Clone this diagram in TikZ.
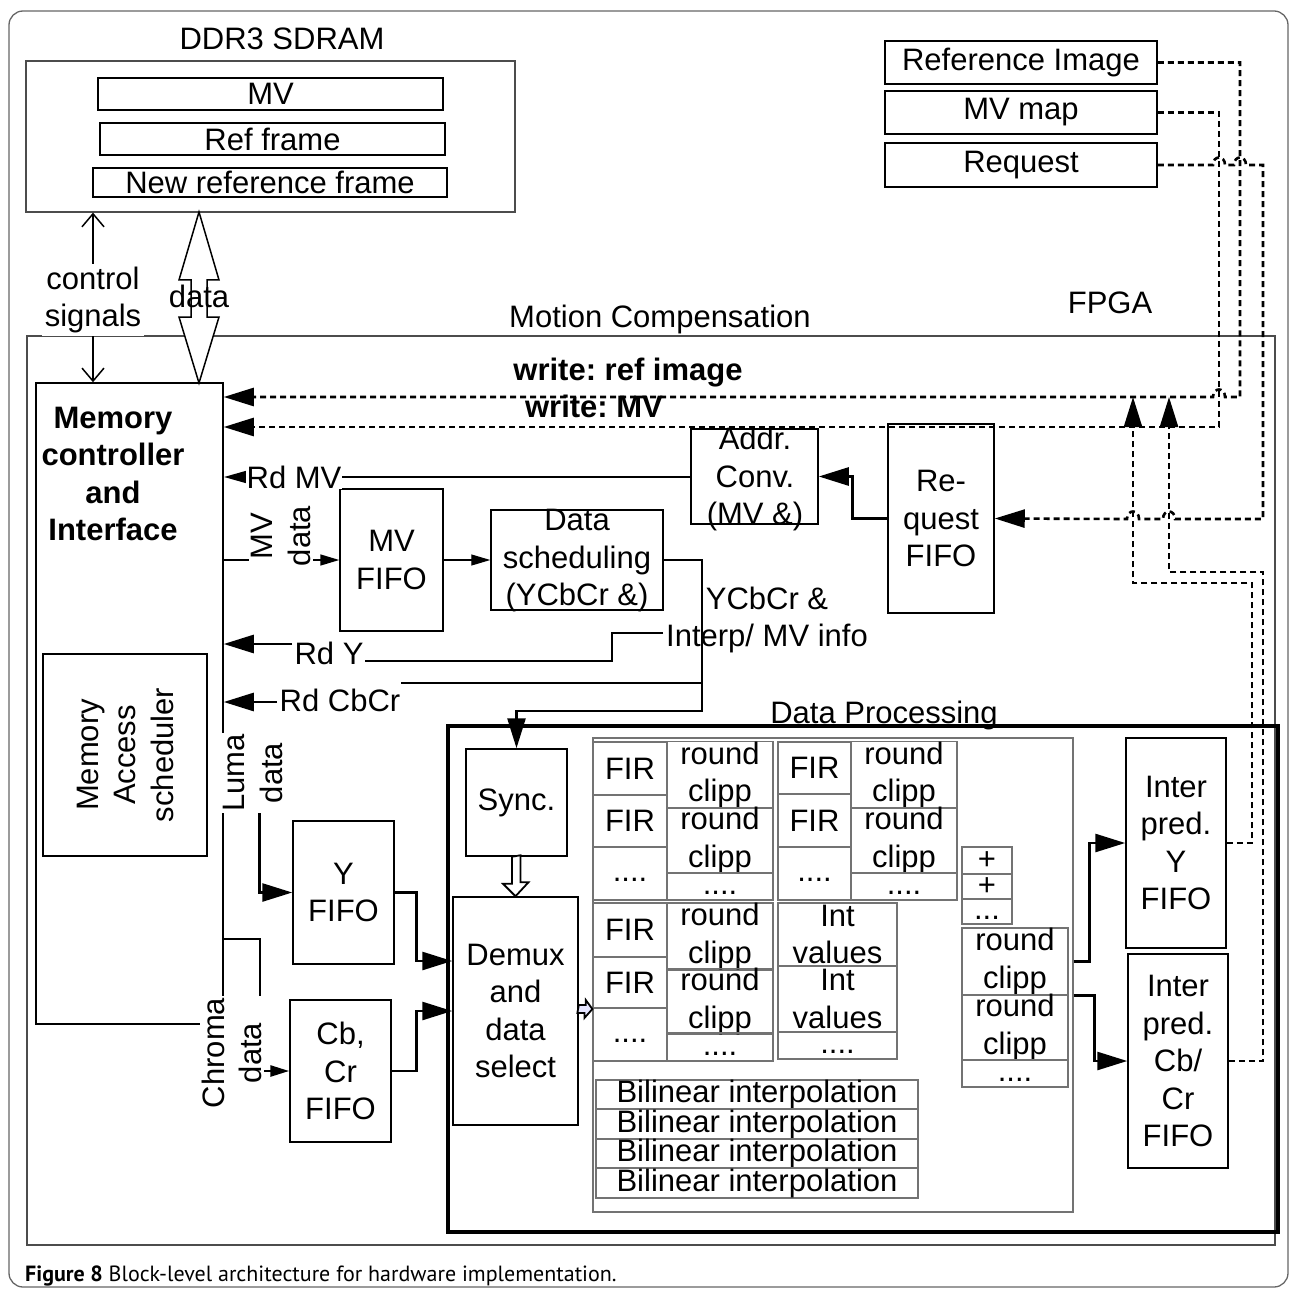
\documentclass[tikz,border=0pt]{standalone}
\usepackage{fontspec}
\setmainfont{Liberation Sans}
\newfontfamily\captionfont{PT Sans}
\newcommand{\mainsize}{\fontsize{31}{37.5}\selectfont\frenchspacing}
\usetikzlibrary{arrows.meta}
\tikzset{
	boxsize/.style 2 args={
			minimum width=#1pt,
			minimum height=#2pt
		},
	blocknode/.style={
			draw=black,
			line width=1.5pt,
			inner sep=0pt,
			align=center
		},
	outernode/.style={
			blocknode,
			draw=black!70,
			line width=1.3pt
		},
	cellnode/.style={
			blocknode,
			draw=black!55,
			line width=1.2pt
		},
	textnode/.style={
			inner sep=0pt,
			align=center
		},
	covernode/.style={
			textnode,
			fill=white,
			inner sep=2pt
		},
	wire/.style={line width=1.5pt},
	heavywire/.style={line width=2.7pt},
	dashwire/.style={line width=2.6pt, dash pattern=on 6pt off 4pt},
	bigarrow/.style={-{Triangle[length=30pt, width=18pt]}},
	midarrow/.style={-{Triangle[length=23pt, width=12pt]}},
	smallarrow/.style={-{Triangle[length=19pt, width=11pt]}},
	ctlarrows/.style={{Straight Barb[length=13pt, width=22pt]}-{Straight Barb[length=13pt, width=22pt]}}
}
\begin{document}
\begin{tikzpicture}[x=1pt, y=-1pt, font=\mainsize]
\useasboundingbox (0,0) rectangle (1290,1289);
\draw[black!60, line width=1.3pt, rounded corners=14pt] (9,11) rectangle (1288,1287);

\node[textnode] (ddrlabel) at (282,39) {DDR3 SDRAM};
\node[outernode, boxsize={489}{151}] (ddr) at (270.5,136.5) {};
\node[blocknode, boxsize={345}{32}] (mvmem) at (270.5,94) {MV};
\node[blocknode, boxsize={345}{32}] (refmem) at (272.5,139) {Ref frame};
\node[blocknode, boxsize={354}{29}] (newmem) at (270,182.5) {New reference frame};

\node[blocknode, boxsize={272}{43}] (refimg) at (1021,62.5) {Reference Image};
\node[blocknode, boxsize={272}{43}] (mvmap) at (1021,112.5) {MV map};
\node[blocknode, boxsize={272}{44}] (request) at (1021,165) {Request};

\node[textnode] (mclabel) at (660,319) {Motion Compensation};
\node[textnode] (fpgalabel) at (1110,303) {FPGA};
\node[outernode, boxsize={1248}{909}] (fpga) at (651,790.5) {};

\node[blocknode, boxsize={187}{641}] (memctl) at (129.5,703.5) {};
\node[textnode, font=\mainsize\bfseries] (memctltext) at (113,474) {Memory\\controller\\and\\Interface};
\node[blocknode, boxsize={164}{202}] (sched) at (125,755) {};
\node[textnode, rotate=90] (schedtext) at (sched.center) {Memory\\Access\\scheduler};

\node[blocknode, boxsize={103}{142}] (mvfifo) at (391.5,560) {MV\\FIFO};
\node[blocknode, boxsize={172}{100}] (datasched) at (577,560) {};
\node[textnode] (dataschedtext) at (577,561) {Data\\scheduling\\(YCbCr \&)};
\node[blocknode, boxsize={127}{95}] (addrconv) at (754.5,476.5) {};
\node[textnode] (addrconvtext) at (755,479) {Addr.\\Conv.\\(MV \&)};
\node[blocknode, boxsize={106}{189}] (reqfifo) at (941,518.5) {Re-\\quest\\FIFO};

\node[blocknode, boxsize={101}{143}] (yfifo) at (343.5,892.5) {Y\\FIFO};
\node[blocknode, boxsize={101}{142}] (cfifo) at (340.5,1071) {Cb,\\Cr\\FIFO};

\node[textnode] (dplabel) at (884,715) {Data Processing};
\node[blocknode, line width=3.2pt, boxsize={830}{506}] (dp) at (863,979) {};
\node[blocknode, boxsize={101}{107}] (sync) at (516.5,802.5) {Sync.};
\node[blocknode, boxsize={125}{228}] (demux) at (515.5,1011) {Demux\\and\\data\\select};
\node[cellnode, boxsize={480}{474}] (panel) at (833,975) {};

\node[cellnode, boxsize={74}{53}] (fir1a) at (630,768.5) {FIR};
\node[cellnode, boxsize={74}{52}] (fir1b) at (630,821) {FIR};
\node[cellnode, boxsize={74}{53}] (fir1c) at (630,873.5) {\vphantom{x}....};
\node[cellnode, boxsize={106}{66}] (rnd1a) at (720,775) {round\\clipp};
\node[cellnode, boxsize={106}{65}] (rnd1b) at (720,840.5) {round\\clipp};
\node[cellnode, boxsize={106}{27}] (rnd1c) at (720,886.5) {\vphantom{x}....};

\node[cellnode, boxsize={73}{52}] (fir2a) at (814.5,768) {FIR};
\node[cellnode, boxsize={73}{53}] (fir2b) at (814.5,820.5) {FIR};
\node[cellnode, boxsize={73}{53}] (fir2c) at (814.5,873.5) {\vphantom{x}....};
\node[cellnode, boxsize={106}{66}] (rnd2a) at (904,775) {round\\clipp};
\node[cellnode, boxsize={106}{65}] (rnd2b) at (904,840.5) {round\\clipp};
\node[cellnode, boxsize={106}{27}] (rnd2c) at (904,886.5) {\vphantom{x}....};

\node[cellnode, boxsize={74}{54}] (fir3a) at (630,930) {FIR};
\node[cellnode, boxsize={74}{51}] (fir3b) at (630,982.5) {FIR};
\node[cellnode, boxsize={74}{53}] (fir3c) at (630,1034.5) {\vphantom{x}....};
\node[cellnode, boxsize={106}{67}] (rnd3a) at (720,936.5) {round\\clipp};
\node[cellnode, boxsize={106}{63}] (rnd3b) at (720,1001.5) {round\\clipp};
\node[cellnode, boxsize={106}{28}] (rnd3c) at (720,1047) {\vphantom{x}....};

\node[cellnode, boxsize={119}{63}] (intv1) at (837.5,934.5) {Int\\values};
\node[cellnode, boxsize={119}{66}] (intv2) at (837.5,999) {Int\\values};
\node[cellnode, boxsize={119}{27}] (intv3) at (837.5,1045.5) {\vphantom{x}....};

\node[cellnode, boxsize={322}{29}] (bil1) at (757,1094.5) {Bilinear interpolation};
\node[cellnode, boxsize={322}{30}] (bil2) at (757,1124) {Bilinear interpolation};
\node[cellnode, boxsize={322}{29}] (bil3) at (757,1153.5) {Bilinear interpolation};
\node[cellnode, boxsize={322}{30}] (bil4) at (757,1183) {Bilinear interpolation};

\node[cellnode, boxsize={50}{27}] (add1) at (987,860.5) {+};
\node[cellnode, boxsize={50}{25}] (add2) at (987,886.5) {+};
\node[cellnode, boxsize={50}{25}] (add3) at (987,911.5) {\vphantom{x}...};
\node[cellnode, boxsize={106}{67}] (rnd4a) at (1015,961.5) {round\\clipp};
\node[cellnode, boxsize={106}{65}] (rnd4b) at (1015,1027.5) {round\\clipp};
\node[cellnode, boxsize={106}{27}] (rnd4c) at (1015,1073.5) {\vphantom{x}....};

\node[blocknode, boxsize={100}{210}] (ypred) at (1176,843) {Inter\\pred.\\Y\\FIFO};
\node[blocknode, boxsize={100}{214}] (cpred) at (1178,1061) {Inter\\pred.\\Cb/\\Cr\\FIFO};

\coordinate (ctl) at (93,300);
\coordinate (rdmv) at (294,477);
\coordinate (rdya) at (292,644);
\coordinate (rdyb) at (365,661);
\coordinate (rdys) at (663,633);
\coordinate (rdca) at (277,702);
\coordinate (rdcb) at (401,683);
\coordinate (dsj) at (702,711);
\coordinate (luma) at (253,773);
\coordinate (chroma) at (223,939);
\coordinate (wref) at (1240,397);
\coordinate (wmv) at (1219,427);
\coordinate (wreq) at (1263,519);
\coordinate (yup) at (1133,583);
\coordinate (cup) at (1169,572);

\draw[wire, ctlarrows] (ctl |- memctl.north) -- (ctl |- ddr.south);
\draw[wire, fill=white] (199,212) -- ++(-20,68) -- ++(12,0) -- ++(0,37) -- ++(-12,0) -- (199,383) -- ++(20,-66) -- ++(-12,0) -- ++(0,-37) -- ++(12,0) -- cycle;

\draw[dashwire, bigarrow] (refimg.east) -| (wref) -- (1225,397) .. controls (1225,387) and (1213,387) .. (1213,397) -- (wref -| memctl.east);
\draw[dashwire, bigarrow] (mvmap.east) -| (wmv) -- (wmv -| memctl.east);
\draw[dashwire, bigarrow] (request.east) -- (1213,165) .. controls (1213,155) and (1225,155) .. (1225,165) -- (1234,165) .. controls (1234,155) and (1246,155) .. (1246,165) -| (wreq) -- (1175,519) .. controls (1175,509) and (1163,509) .. (1163,519) -- (1139,519) .. controls (1139,509) and (1127,509) .. (1127,519) -- (reqfifo.east);
\draw[dashwire, bigarrow] (ypred.east) -| (1252,583) -| (yup |- wref);
\draw[dashwire, bigarrow] (cpred.east) -| (1263,572) -| (cup |- wref);

\draw[heavywire, midarrow] (rdmv -| addrconv.west) -- (rdmv -| memctl.east);
\draw[heavywire, bigarrow] (reqfifo.west) -- ++(-35,0) |- (addrconv.east);
\draw[wire, smallarrow] (mvfifo.west -| memctl.east) -- (mvfifo.west);
\draw[line width=1.2pt, smallarrow] (mvfifo.east) -- (datasched.west);
\draw[heavywire, bigarrow] (datasched.east) -| (dsj) -| (sync.north);
\draw[heavywire] (dsj |- rdcb) -- (rdcb);
\draw[heavywire, bigarrow] (rdca) -- (rdca -| memctl.east);
\draw[heavywire] (rdys) -| (612,661) -- (rdyb);
\draw[heavywire, bigarrow] (rdya) -- (rdya -| memctl.east);

\draw[heavywire, bigarrow] (luma -| memctl.east) -- ++(36,0) |- (yfifo.west);
\draw[heavywire, smallarrow] (chroma) -- ++(37,0) |- (cfifo.west);
\draw[heavywire, bigarrow] (yfifo.east) -- ++(22,0) |- ([yshift=50pt]demux.west);
\draw[heavywire, bigarrow] (cfifo.east) -- ++(25,0) |- (demux.west);
\draw[line width=1.8pt, fill=white] ([xshift=-4.5pt]sync.south) -- ++(0,27) -- ++(-9,0) -- (demux.north) -- ++(13,-14) -- ++(-8,0) -- ++(0,-27) -- cycle;
\draw[line width=1.8pt, fill=blue!10] ([yshift=6pt]demux.east) -- ++(7,0) -- ++(0,-5) -- ([yshift=2pt]demux.east -| panel.west) -- ++(-8,9) -- ++(0,-5) -- ++(-7,0) -- cycle;
\draw[heavywire, bigarrow] (rnd4a.east -| panel.east) -- ++(16,0) |- (ypred.west);
\draw[heavywire, bigarrow] (rnd4a.south east -| panel.east) -- ++(21,0) |- (cpred.west);

\node[covernode, inner sep=3pt] (ctltext) at (ctl) {control\\signals};
\node[textnode] (datatext) at (199,296) {data};
\node[covernode, inner sep=1pt] (rdmvtext) at (rdmv) {Rd MV};
\node[textnode] (rdytext) at (329,653) {Rd Y};
\node[textnode] (rdctext) at (340,700) {Rd CbCr};
\node[textnode] (infotext) at (767,620) {YCbCr \&\\Interp/ MV info};
\node[covernode, rotate=90] (mvdatatext) at (281,536) {MV\\data};
\node[covernode, inner sep=1pt, rotate=90] (lumatext) at (luma) {Luma\\data};
\node[covernode, rotate=90] (chromatext) at (232,1053) {Chroma\\data};
\node[textnode, font=\mainsize\bfseries] (wreftext) at (628,373) {write: ref image};
\node[textnode, font=\mainsize\bfseries] (wmvtext) at (594,406) {write: MV};

\node[anchor=base west, inner sep=0pt, font=\fontsize{22}{26}\captionfont] (caption) at (25,1281) {\textbf{Figure 8} Block-level architecture for hardware implementation.};
\end{tikzpicture}
\end{document}
